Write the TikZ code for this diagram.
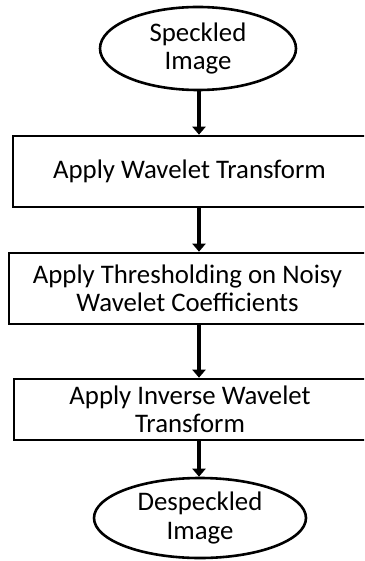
\documentclass[tikz,border=0pt]{standalone}
\usepackage{fontspec}
\setmainfont{Carlito}
\usetikzlibrary{shapes.geometric,arrows.meta}
\begin{document}
\begin{tikzpicture}[x=1pt,y=-1pt,
  procbox/.style={draw=black,line width=2.6pt,rectangle,inner sep=0pt,align=center,font=\fontsize{26.8}{28.5}\selectfont},
  term/.style={draw=black,line width=2.6pt,ellipse,inner sep=0pt,align=center,font=\fontsize{26.8}{28.5}\selectfont},
  flow/.style={line width=4.5pt,-{Triangle[width=13pt,length=8pt]}}]
\useasboundingbox (0,0) rectangle (364,561);
\clip (0,0) rectangle (364,561);
\node[term,minimum width=196pt,minimum height=83pt] (start) at (198,48.5) {Speckled\\Image};
\node[procbox,minimum width=353pt,minimum height=71pt] (b1) at (189.5,171.5) {Apply Wavelet Transform};
\node[procbox,minimum width=357pt,minimum height=71pt] (b2) at (187.5,288.5) {Apply Thresholding on Noisy\\Wavelet Coefficients};
\node[procbox,minimum width=352pt,minimum height=61pt] (b3) at (190,409.5) {Apply Inverse Wavelet\\Transform};
\node[term,minimum width=212pt,minimum height=80pt] (end) at (200,518) {Despeckled\\Image};
\coordinate (a1) at (199,0);
\draw[flow] (start.south -| a1) -- (b1.north -| a1);
\draw[flow] (b1.south -| a1) -- (b2.north -| a1);
\draw[flow] (b2.south -| a1) -- (b3.north -| a1);
\draw[flow] (b3.south -| a1) -- (end.north -| a1);
\end{tikzpicture}
\end{document}
